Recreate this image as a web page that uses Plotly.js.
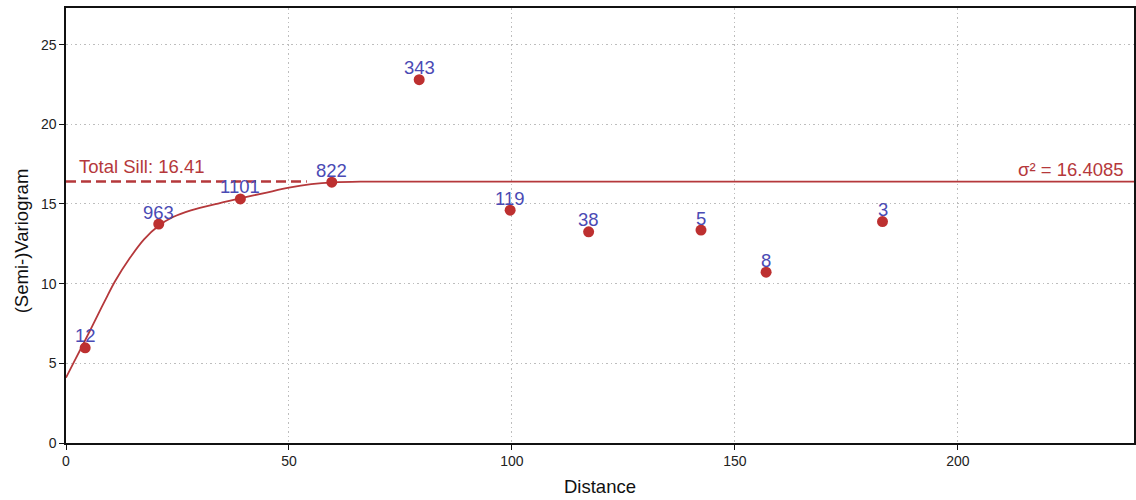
<!DOCTYPE html>
<html>
<head>
<meta charset="utf-8">
<script src="https://cdn.plot.ly/plotly-3.0.1.min.js"></script>
<style>
  html, body { margin: 0; padding: 0; background: #fff; }
  #chart { width: 1136px; height: 500px; }
</style>
</head>
<body>
<div id="chart"></div>
<script>
// Experimental semi-variogram: lag distance, semivariance and pair counts per bin
const lagDistance = [4.3, 20.8, 39.1, 59.6, 79.2, 99.6, 117.2, 142.4, 157.0, 183.1];
const semivariance = [5.97, 13.74, 15.32, 16.37, 22.80, 14.61, 13.25, 13.36, 10.72, 13.90];
const pairCounts = ['12', '963', '1101', '822', '343', '119', '38', '5', '8', '3'];

// Fitted model curve (distance, semivariance)
const modelDistance = [0, 2, 4.3, 7, 9, 11, 14.35, 17.5, 20.7, 24, 28, 34.5, 39, 45, 50, 55, 60, 66, 240];
const modelValue = [4.1, 5.2, 6.45, 7.96, 9.08, 10.15, 11.62, 12.78, 13.62, 14.18, 14.6, 15.06, 15.35, 15.72, 16.02, 16.24, 16.36, 16.405, 16.4085];

// Sill of the model
const totalSill = 16.4085;
const sillDashEnd = 54;
const sillLabel = 'Total Sill: 16.41';
const sigmaLabel = 'σ² = 16.4085';
const xTitle = 'Distance';
const yTitle = '(Semi-)Variogram';

const red = '#b5383b';
const dotRed = '#bd3030';
const blue = '#4a4ab4';
const font = 'Liberation Sans, Arial, sans-serif';

const traces = [
  {
    x: [0, sillDashEnd],
    y: [totalSill, totalSill],
    mode: 'lines',
    line: { color: red, width: 2.4, dash: '10px,5px' },
    hoverinfo: 'skip'
  },
  {
    x: modelDistance,
    y: modelValue,
    mode: 'lines',
    line: { color: red, width: 1.8, shape: 'spline', smoothing: 0.8 },
    hoverinfo: 'skip'
  },
  {
    x: lagDistance,
    y: semivariance,
    mode: 'markers',
    marker: { color: dotRed, size: 11 },
    cliponaxis: false
  }
];

const axisCommon = {
  showline: true,
  linecolor: '#111',
  linewidth: 1.6,
  mirror: true,
  ticks: 'outside',
  ticklen: 5,
  tickwidth: 1,
  tickcolor: '#111',
  showgrid: true,
  gridcolor: '#bdbdbd',
  griddash: '1.5px,3px',
  gridwidth: 1,
  zeroline: false,
  tickfont: { family: font, size: 14, color: '#222' }
};

// Pair-count labels above each point
const countLabels = lagDistance.map((d, i) => ({
  x: d, y: semivariance[i], xref: 'x', yref: 'y',
  text: pairCounts[i], showarrow: false,
  xanchor: 'center', yanchor: 'middle', yshift: 12,
  font: { family: font, size: 18.5, color: blue }
}));

const layout = {
  width: 1136,
  height: 500,
  margin: { l: 66, r: 2, t: 8, b: 57 },
  paper_bgcolor: '#fff',
  plot_bgcolor: '#fff',
  showlegend: false,
  xaxis: Object.assign({}, axisCommon, {
    range: [0, 239.5],
    tick0: 0,
    dtick: 50
  }),
  yaxis: Object.assign({}, axisCommon, {
    range: [0, 27.3],
    tick0: 0,
    dtick: 5
  }),
  annotations: countLabels.concat([
    {
      x: 2.4, y: totalSill, xref: 'x', yref: 'y',
      text: sillLabel, showarrow: false,
      xanchor: 'left', yanchor: 'middle', yshift: 15,
      font: { family: font, size: 18.5, color: red }
    },
    {
      x: 1, xref: 'paper', y: totalSill, yref: 'y',
      text: sigmaLabel, showarrow: false,
      xanchor: 'right', yanchor: 'middle', xshift: -8, yshift: 12,
      font: { family: font, size: 18.5, color: red }
    },
    {
      x: 0.5, xref: 'paper', y: -0.101, yref: 'paper',
      text: xTitle, showarrow: false,
      xanchor: 'center', yanchor: 'middle',
      font: { family: font, size: 18.5, color: '#111' }
    },
    {
      x: -0.042, xref: 'paper', y: 0.464, yref: 'paper',
      text: yTitle, showarrow: false, textangle: -90,
      xanchor: 'center', yanchor: 'middle',
      font: { family: font, size: 18.5, color: '#111' }
    }
  ])
};

Plotly.newPlot('chart', traces, layout, { displayModeBar: false, staticPlot: true });
</script>
</body>
</html>
